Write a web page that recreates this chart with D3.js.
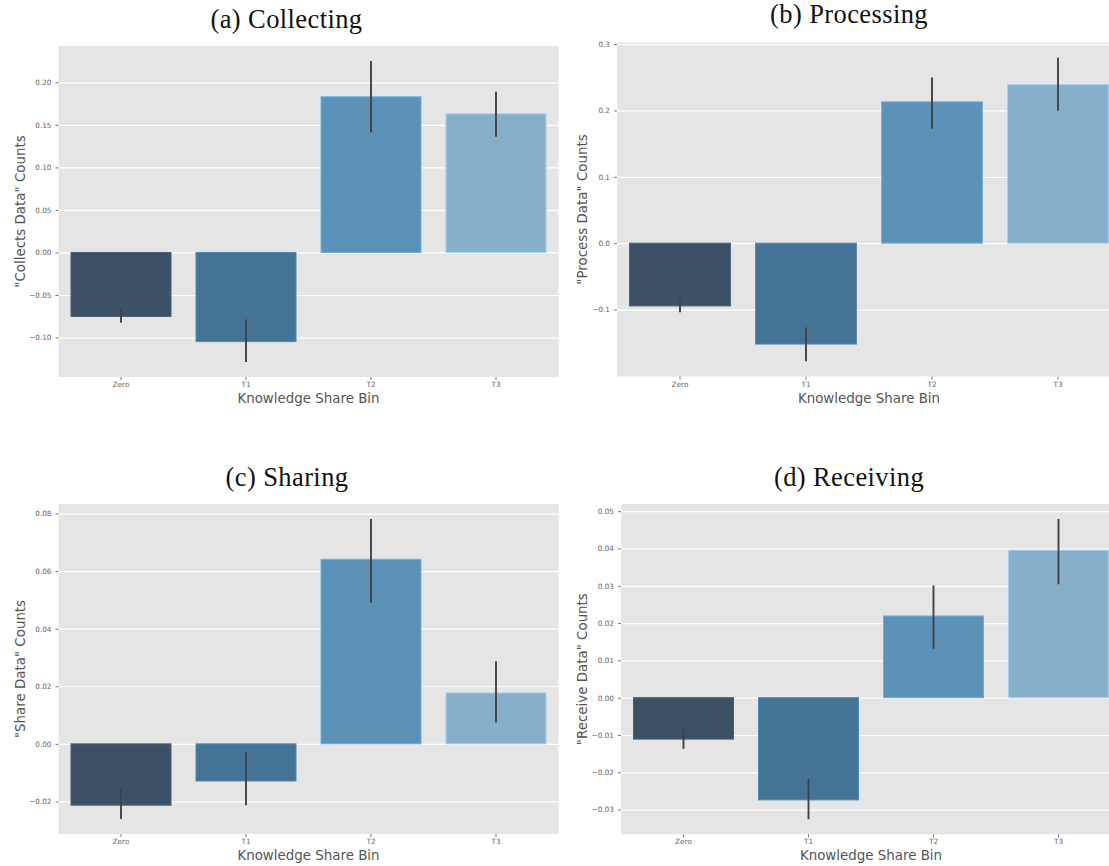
<!DOCTYPE html>
<html>
<head>
<meta charset="utf-8">
<script src="https://cdn.jsdelivr.net/npm/d3@7"></script>
<style>
  body { margin: 0; background: #fff; }
  text { font-family: 'DejaVu Sans', sans-serif; }
</style>
</head>
<body>
<script>
// data (bar means + error bar ends)
const categories = ['Zero', 'T1', 'T2', 'T3'];
const barColors = ['#3c5166', '#457395', '#5d92b8', '#88afca'];

const collectMean = [-0.0752, -0.1048, 0.183, 0.163];
const collectLow  = [-0.0826, -0.1287, 0.141, 0.136];
const collectHigh = [-0.067, -0.0787, 0.225, 0.189];

const processMean = [-0.0945, -0.152, 0.213, 0.239];
const processLow  = [-0.104, -0.178, 0.1725, 0.1995];
const processHigh = [-0.084, -0.127, 0.2495, 0.2795];

const shareMean = [-0.0213, -0.0129, 0.0641, 0.0177];
const shareLow  = [-0.0261, -0.0213, 0.049, 0.0074];
const shareHigh = [-0.0155, -0.0029, 0.0781, 0.0287];

const receiveMean = [-0.0111, -0.0274, 0.0219, 0.0395];
const receiveLow  = [-0.0137, -0.0326, 0.0131, 0.0304];
const receiveHigh = [-0.0084, -0.0218, 0.0301, 0.0479];

const collectTicks = [-0.10, -0.05, 0, 0.05, 0.10, 0.15, 0.20];
const processTicks = [-0.1, 0, 0.1, 0.2, 0.3];
const shareTicks = [-0.02, 0, 0.02, 0.04, 0.06, 0.08];
const receiveTicks = [-0.03, -0.02, -0.01, 0, 0.01, 0.02, 0.03, 0.04, 0.05];

const titles = ['(a) Collecting', '(b) Processing', '(c) Sharing', '(d) Receiving'];
const yLabels = ['"Collects Data" Counts', '"Process Data" Counts', '"Share Data" Counts', '"Receive Data" Counts'];
const xLabel = 'Knowledge Share Bin';

const svg = d3.select('body').append('svg').attr('width', 1109).attr('height', 866);

// panel boxes (gray area), title spot, y label spot
const panels = [
  {mean: collectMean, low: collectLow, high: collectHigh, ticks: collectTicks, fmt: '.2f',
   left: 58.5, top: 46, w: 500, h: 331, titleX: 286.5, titleY: 28, ylabX: 20.7},
  {mean: processMean, low: processLow, high: processHigh, ticks: processTicks, fmt: '.1f',
   left: 617, top: 42.5, w: 504, h: 334, titleX: 849, titleY: 23, ylabX: 582.7},
  {mean: shareMean, low: shareLow, high: shareHigh, ticks: shareTicks, fmt: '.2f',
   left: 58.5, top: 504, w: 500, h: 330, titleX: 287, titleY: 486, ylabX: 20.7},
  {mean: receiveMean, low: receiveLow, high: receiveHigh, ticks: receiveTicks, fmt: '.2f',
   left: 621, top: 504, w: 500, h: 330.3, titleX: 849, titleY: 485.5, ylabX: 582.8}
];

panels.forEach((p, i) => render(p, i));

function render(p, idx) {
  const data = categories.map((c, i) => ({cat: c, mean: p.mean[i], low: p.low[i], high: p.high[i]}));

  // matplotlib style autoscale: extent of error bars + 5% margin
  var lo = d3.min(data, d => Math.min(d.low, d.mean, 0));
  var hi = d3.max(data, d => Math.max(d.high, d.mean, 0));
  var pad = (hi - lo) * 0.05;

  var xScale = d3.scaleBand().domain(categories).range([0, p.w]).paddingInner(0.2).paddingOuter(0.1);
  var yScale = d3.scaleLinear().domain([lo - pad, hi + pad]).range([p.h, 0]);

  const g = svg.append('g').attr('transform', `translate(${p.left},${p.top})`);

  g.append('rect').attr('width', p.w).attr('height', p.h).attr('fill', '#e5e5e5');

  // grid
  const gridG = g.append('g').call(d3.axisLeft(yScale).tickValues(p.ticks).tickSize(-p.w).tickFormat(''));
  gridG.select('.domain').remove();
  gridG.selectAll('.tick line').attr('stroke', '#fff').attr('stroke-width', 1.2);

  // y axis ticks + labels
  const yAxisG = g.append('g').call(d3.axisLeft(yScale).tickValues(p.ticks).tickSize(3).tickPadding(4).tickFormat(d3.format(p.fmt)));
  yAxisG.select('.domain').remove();
  yAxisG.selectAll('.tick line').attr('stroke', '#777');
  yAxisG.selectAll('.tick text').attr('fill', '#666').style('font-size', '7.3px');

  // x axis
  const xAxisG = g.append('g').attr('transform', `translate(0,${p.h})`)
    .call(d3.axisBottom(xScale).tickSize(3).tickPadding(2));
  xAxisG.select('.domain').remove();
  xAxisG.selectAll('.tick line').attr('stroke', '#777');
  xAxisG.selectAll('.tick text').attr('fill', '#666').style('font-size', '7.3px');

  // bars
  g.selectAll('rect.bar').data(data).enter()
    .append('rect').attr('class', 'bar')
    .attr('x', d => xScale(d.cat))
    .attr('width', xScale.bandwidth())
    .attr('y', d => yScale(Math.max(0, d.mean)))
    .attr('height', d => Math.abs(yScale(d.mean) - yScale(0)))
    .attr('fill', (d, i) => barColors[i])
    .attr('stroke', (d, i) => d3.color(barColors[i]).brighter(0.5))
    .attr('stroke-width', 1);

  // error bars
  g.selectAll('line.err').data(data).enter()
    .append('line').attr('class', 'err')
    .attr('x1', d => xScale(d.cat) + xScale.bandwidth() / 2)
    .attr('x2', d => xScale(d.cat) + xScale.bandwidth() / 2)
    .attr('y1', d => yScale(d.low))
    .attr('y2', d => yScale(d.high))
    .attr('stroke', '#424242').attr('stroke-width', 1.9);

  // x label
  g.append('text').text(xLabel).attr('x', p.w / 2).attr('y', p.h + 26)
    .attr('text-anchor', 'middle').attr('font-size', '13.4px').attr('fill', '#555');

  // y label
  svg.append('text').text(yLabels[idx])
    .attr('transform', `translate(${p.ylabX},${p.top + p.h / 2}) rotate(-90)`)
    .attr('text-anchor', 'middle').attr('dominant-baseline', 'central')
    .attr('font-size', '13.4px').attr('fill', '#555');

  // title
  svg.append('text').text(titles[idx]).attr('x', p.titleX).attr('y', p.titleY)
    .attr('text-anchor', 'middle').style('font-family', "'Liberation Serif', serif")
    .attr('font-size', '26.5px').attr('letter-spacing', '0.4px').attr('fill', '#111');
}
</script>
</body>
</html>
